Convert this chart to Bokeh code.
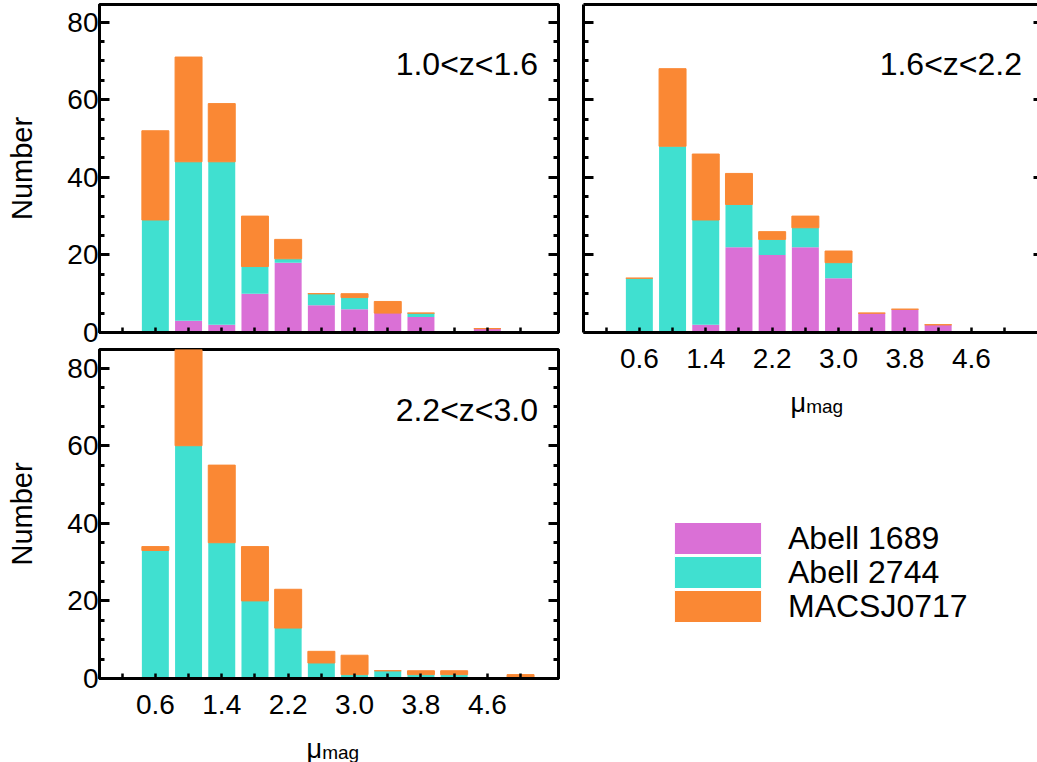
from bokeh.plotting import figure
from bokeh.models import (ColumnDataSource, Range1d, FixedTicker, LinearAxis, Label,
                          Legend, LegendItem, NumeralTickFormatter)
from bokeh.layouts import row, column
from bokeh.embed import file_html
from bokeh.resources import INLINE

# ---------------- data ----------------
mu_bins = [0.2, 0.6, 1.0, 1.4, 1.8, 2.2, 2.6, 3.0, 3.4, 3.8, 4.2, 4.6, 5.0]

z1_abell1689 = [0, 0, 3, 2, 10, 18, 7, 6, 5, 4, 0, 1, 0]
z1_abell2744 = [0, 29, 41, 42, 7, 1, 3, 3, 0, 1, 0, 0, 0]
z1_macsj0717 = [0, 23, 27, 15, 13, 5, 0, 1, 3, 0, 0, 0, 0]

z2_abell1689 = [0, 0, 0, 2, 22, 20, 22, 14, 5, 6, 2, 0, 0]
z2_abell2744 = [0, 14, 48, 27, 11, 4, 5, 4, 0, 0, 0, 0, 0]
z2_macsj0717 = [0, 0, 20, 17, 8, 2, 3, 3, 0, 0, 0, 0, 0]

z3_abell1689 = [0, 0, 0, 0, 0, 0, 0, 0, 0, 0, 0, 0, 0]
z3_abell2744 = [0, 33, 60, 35, 20, 13, 4, 1, 2, 1, 1, 0, 0]
z3_macsj0717 = [0, 1, 25, 20, 14, 10, 3, 5, 0, 1, 1, 0, 1]

series_names = ["Abell 1689", "Abell 2744", "MACSJ0717"]
series_colors = ["#da70d6", "#40e0d0", "#fa8834"]
panel_labels = ["1.0<z<1.6", "1.6<z<2.2", "2.2<z<3.0"]
x_ticks = [0.6, 1.4, 2.2, 3.0, 3.8, 4.6]
y_ticks = [0, 20, 40, 60, 80]
y_title = "Number"
x_title_main = "\u03bc"
x_title_sub = "mag"

# ---------------- styling ----------------
FONT = "Liberation Sans"
X0 = -0.073
PX_PER_UNIT = 83.0
PX_PER_COUNT = 329 / 84.8
x_minor = [m for m in mu_bins if m not in x_ticks]
y_minor = [v for v in range(5, 85, 5) if v % 20 != 0]


def style_axis(ax, tick_in, minor_in, show_labels, line=True, lw=3, standoff=1):
    ax.axis_line_color = "black" if line else None
    ax.axis_line_width = 3
    ax.major_tick_in = tick_in
    ax.major_tick_out = 0
    ax.minor_tick_in = minor_in
    ax.minor_tick_out = 0
    ax.major_tick_line_width = lw
    ax.minor_tick_line_width = lw
    ax.major_tick_line_color = "black"
    ax.minor_tick_line_color = "black" if minor_in > 0 else None
    ax.major_label_text_font = FONT
    if show_labels:
        ax.major_label_text_color = "black"
        ax.major_label_text_font_size = "28px"
        ax.major_label_standoff = standoff
    else:
        ax.major_label_text_color = None
        ax.major_label_text_font_size = "0px"
        ax.major_label_standoff = 0


def make_panel(a, b, c, label, frame_w, frame_h, left, right, top, bottom,
               ylabels, xlabels, outline=True):
    x_end = X0 + frame_w / PX_PER_UNIT
    y_end = frame_h / PX_PER_COUNT
    p = figure(frame_width=frame_w, frame_height=frame_h,
               x_range=Range1d(X0, x_end), y_range=Range1d(0, y_end),
               output_backend="svg", toolbar_location=None,
               min_border_left=left, min_border_right=right,
               min_border_top=top, min_border_bottom=bottom)
    p.grid.visible = False
    p.background_fill_color = "white"
    p.border_fill_color = "white"
    p.outline_line_color = "black" if outline else None
    p.outline_line_width = 3

    src = ColumnDataSource(dict(mu=mu_bins, a1689=a, a2744=b, macs=c))
    p.vbar_stack(["a1689", "a2744", "macs"], x="mu", width=0.325, source=src,
                 fill_color=series_colors, line_color=series_colors,
                 line_alpha=[0, 0, 1], line_width=1)

    xa = p.xaxis[0]
    xa.ticker = FixedTicker(ticks=x_ticks, minor_ticks=x_minor)
    xa.formatter = NumeralTickFormatter(format="0.0")
    style_axis(xa, 5, 5, xlabels, lw=2.5, standoff=16)

    ya = p.yaxis[0]
    ya.ticker = FixedTicker(ticks=y_ticks, minor_ticks=y_minor)
    style_axis(ya, 10, 5, ylabels, standoff=1)
    if ylabels:
        ya.axis_label = y_title
        ya.axis_label_text_font = FONT
        ya.axis_label_text_font_size = "29px"
        ya.axis_label_text_font_style = "normal"
        ya.axis_label_text_color = "black"
        ya.axis_label_standoff = 26

    if outline:
        ra = LinearAxis(ticker=FixedTicker(ticks=y_ticks, minor_ticks=y_minor))
        style_axis(ra, 10, 5, False)
        p.add_layout(ra, "right")
    else:
        ra = LinearAxis(ticker=FixedTicker(ticks=y_ticks, minor_ticks=[]))
        style_axis(ra, 4, 0, False, line=False)
        p.add_layout(ra, "right")
        ta = LinearAxis(ticker=FixedTicker(ticks=[], minor_ticks=[]))
        style_axis(ta, 0, 0, False)
        p.add_layout(ta, "above")

    p.add_layout(Label(x=5.21, y=69.2, text=label, text_align="right",
                       text_baseline="alphabetic", text_font=FONT,
                       text_font_size="32px", text_color="black"))
    return p


def x_title(p, y_main, y_sub):
    p.add_layout(Label(x=2.42, y=y_main, text=x_title_main, text_align="left",
                       text_baseline="alphabetic", text_font=FONT,
                       text_font_size="27px", text_color="black"))
    p.add_layout(Label(x=2.61, y=y_sub, text=x_title_sub, text_align="left",
                       text_baseline="alphabetic", text_font=FONT,
                       text_font_size="19px", text_color="black"))


def text_strip(width, height, frame_w):
    # the frame of this strip is aligned by the layout with the panel above it
    p = figure(width=width, height=height,
               x_range=Range1d(X0, X0 + frame_w / PX_PER_UNIT),
               y_range=Range1d(0, height),
               output_backend="svg", toolbar_location=None,
               x_axis_location=None, y_axis_location=None,
               min_border_left=0, min_border_right=0,
               min_border_top=0, min_border_bottom=0)
    p.grid.visible = False
    p.outline_line_color = None
    p.background_fill_color = "white"
    p.border_fill_color = "white"
    return p


p1 = make_panel(z1_abell1689, z1_abell2744, z1_macsj0717, panel_labels[0],
                459, 328, 99, 12, 4, 16, True, False)
p3 = make_panel(z3_abell1689, z3_abell2744, z3_macsj0717, panel_labels[2],
                459, 329, 99, 12, 1, 52, True, True)
p2 = make_panel(z2_abell1689, z2_abell2744, z2_macsj0717, panel_labels[1],
                454, 328, 13, 0, 4, 53, False, True, outline=False)

ptitle3 = text_strip(570, 32, 459)
x_title(ptitle3, 14, 10)

pright = text_strip(467, 377, 454)
x_title(pright, 359.5, 356)

totals = dict(mu=mu_bins,
              a1689=[i + j + k for i, j, k in zip(z1_abell1689, z2_abell1689, z3_abell1689)],
              a2744=[i + j + k for i, j, k in zip(z1_abell2744, z2_abell2744, z3_abell2744)],
              macs=[i + j + k for i, j, k in zip(z1_macsj0717, z2_macsj0717, z3_macsj0717)])
rs = pright.vbar_stack(["a1689", "a2744", "macs"], x="mu", width=0.325,
                       source=ColumnDataSource(totals),
                       fill_color=series_colors, line_color="white", line_width=1)
for r in rs:
    r.visible = False

# one legend per entry so that the rows can sit 34 px apart
LEG_X = 80
LEG_Y0 = 204
LEG_PITCH = 34
for i, (n, r) in enumerate(zip(series_names, rs)):
    leg = Legend(items=[LegendItem(label=n, renderers=[r])],
                 location=(LEG_X, LEG_Y0 - i * LEG_PITCH), border_line_color=None,
                 background_fill_alpha=0, padding=0, margin=0, spacing=0,
                 glyph_width=109, glyph_height=40, label_standoff=16, label_height=40,
                 label_text_font=FONT, label_text_font_size="32px",
                 label_text_color="black")
    pright.add_layout(leg)

layout = row(column(p1, p3, ptitle3), column(p2, pright))

open("out.html", "w").write(file_html(layout, INLINE))
